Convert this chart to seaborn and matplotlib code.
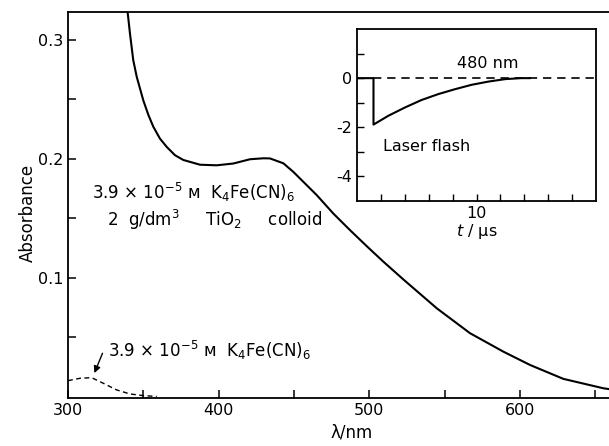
import numpy as np
import pandas as pd
import seaborn as sns
import matplotlib.pyplot as plt
from matplotlib.ticker import FixedLocator

# absorption spectrum, K4Fe(CN)6 + TiO2 colloid
wl_colloid = [339, 341.1, 343.3, 345.6, 350, 353.3, 356.6, 361, 365.5, 371, 376.5,
              387.6, 398.7, 409.7, 420.8, 429.6, 434, 442.9, 449.5, 456.1, 465, 476,
              487.1, 498.2, 509.2, 522.5, 544.7, 566.8, 588.9, 606.6, 628.7, 655.2, 660]
abs_colloid = [0.33, 0.3056, 0.283, 0.269, 0.249, 0.237, 0.227, 0.217, 0.210, 0.203, 0.199,
               0.195, 0.1945, 0.196, 0.1996, 0.2004, 0.2003, 0.1962, 0.189, 0.1807, 0.1695, 0.154,
               0.140, 0.1265, 0.1135, 0.0985, 0.0742, 0.0532, 0.0377, 0.0265, 0.0148, 0.0069, 0.006]

# K4Fe(CN)6 alone
wl_ferro = [300, 308, 315.7, 323.4, 332.3, 341.1, 350, 358.9]
abs_ferro = [0.0133, 0.0153, 0.0158, 0.0111, 0.0055, 0.0021, 0.0007, 0.0]

# inset transient at 480 nm
t_us = [0, 1.38, 1.38, 2.63, 4.03, 5.4, 6.8, 8.2, 9.6, 11.0, 12.4, 13.75, 14.5]
signal = [0, 0, -1.89, -1.53, -1.19, -0.89, -0.65, -0.45, -0.27, -0.14, -0.04, 0.0, 0.0]
baseline_t = [1.38, 20]
baseline = [0, 0]

sns.set_style("ticks")
plt.rcParams['font.family'] = ['DejaVu Sans']
plt.rcParams['mathtext.default'] = 'regular'
plt.rcParams['axes.unicode_minus'] = False
for key in ['text.color', 'axes.labelcolor', 'xtick.color', 'ytick.color', 'axes.edgecolor']:
    plt.rcParams[key] = 'black'

fig = plt.figure(figsize=(6.09, 4.46), dpi=100)
ax = fig.add_axes([68 / 609, 48 / 446, 541 / 609, 386 / 446])

sns.lineplot(x=wl_colloid, y=abs_colloid, ax=ax, color='black', lw=1.5,
             estimator=None, sort=False)
sns.lineplot(x=wl_ferro, y=abs_ferro, ax=ax, color='black', lw=1.0,
             linestyle=(0, (3.5, 2.5)), estimator=None, sort=False)

ax.set_xlim(300, 659)
ax.set_ylim(-0.0013, 0.3235)
ax.xaxis.set_major_locator(FixedLocator([300, 400, 500, 600]))
ax.xaxis.set_minor_locator(FixedLocator([350, 450, 550, 650]))
ax.yaxis.set_major_locator(FixedLocator([0.1, 0.2, 0.3]))
ax.yaxis.set_minor_locator(FixedLocator([0.05, 0.15, 0.25]))
ax.tick_params(which='both', direction='in', length=6, width=1.1, labelsize=11.5,
               top=False, right=False)
for side in ['left', 'bottom', 'top']:
    ax.spines[side].set_linewidth(1.3)
ax.spines['right'].set_visible(False)

ax.set_xlabel('λ/nm', fontsize=12)
ax.xaxis.set_label_coords(0.525, -0.066)
ax.set_ylabel('Absorbance', fontsize=12)
ax.yaxis.set_label_coords(-0.058, 0.48)

ax.text(315.9, 0.172, r'3.9 $\times$ 10$^{-5}$ ᴍ  K$_4$Fe(CN)$_6$', fontsize=12, va='center')
ax.text(325.9, 0.1485, r'2  g/dm$^3$     TiO$_2$     colloid', fontsize=12, va='center')
ax.text(326.5, 0.039, r'3.9 $\times$ 10$^{-5}$ ᴍ  K$_4$Fe(CN)$_6$', fontsize=12, va='center')
ax.annotate('', xy=(316.8, 0.0175), xytext=(323.6, 0.0385),
            arrowprops=dict(arrowstyle='-|>', color='black', lw=1.0, mutation_scale=10))

# inset
axi = fig.add_axes([357 / 609, 245 / 446, 239 / 609, 172 / 446])
sns.lineplot(x=t_us, y=signal, ax=axi, color='black', lw=1.5, estimator=None, sort=False)
sns.lineplot(x=baseline_t, y=baseline, ax=axi, color='black', lw=1.2,
             linestyle=(0, (5, 3.5)), estimator=None, sort=False)
axi.set_xlim(0, 20)
axi.set_ylim(-5, 2)
axi.xaxis.set_major_locator(FixedLocator([10]))
axi.xaxis.set_minor_locator(FixedLocator([2, 4, 6, 8, 12, 14, 16, 18]))
axi.yaxis.set_major_locator(FixedLocator([0, -2, -4]))
axi.yaxis.set_minor_locator(FixedLocator([1, -1, -3]))
axi.tick_params(which='both', direction='in', length=5, width=1.0, labelsize=11.5,
                top=False, right=False)
for side in axi.spines:
    axi.spines[side].set_linewidth(1.3)
axi.set_xlabel(r'$\mathit{t}$ / $\mu$s', fontsize=11.5, labelpad=1)
axi.text(10.9, 0.58, '480 nm', fontsize=11.5, ha='center', va='center')
axi.text(2.2, -2.78, 'Laser flash', fontsize=11.5, ha='left', va='center')

fig.savefig('out.png', dpi=100)
